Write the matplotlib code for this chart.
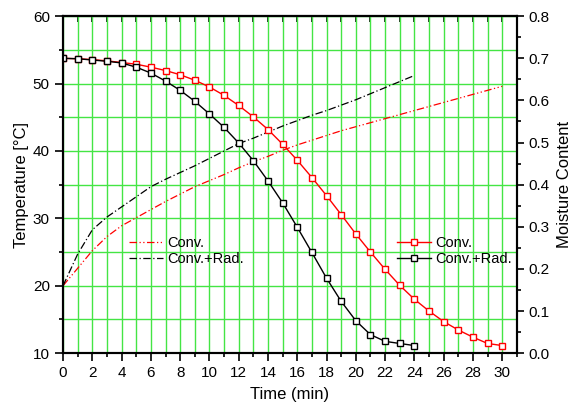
"""
Temperature and moisture content vs drying time
"""
import matplotlib.pyplot as plt
from matplotlib.ticker import MultipleLocator

plt.rcParams['font.family'] = ['Liberation Sans', 'DejaVu Sans']

# time axis (min)
time_conv = list(range(0, 31))
time_rad = list(range(0, 25))

# temperature (deg C)
temp_conv = [20.0, 22.6, 25.2, 27.3, 28.9, 30.1, 31.3, 32.5, 33.6, 34.7,
             35.6, 36.5, 37.5, 38.4, 39.2, 40.1, 40.9, 41.6, 42.3, 43.0,
             43.6, 44.2, 44.8, 45.4, 46.0, 46.6, 47.2, 47.8, 48.4, 49.0, 49.6]
temp_rad = [20.0, 24.7, 28.3, 30.2, 31.7, 33.2, 34.7, 35.8, 36.8, 37.8,
            38.9, 40.0, 41.1, 41.9, 42.8, 43.7, 44.5, 45.3, 46.0, 46.8,
            47.6, 48.5, 49.4, 50.3, 51.2]

# moisture content
moist_conv = [0.700, 0.699, 0.697, 0.694, 0.690, 0.686, 0.679, 0.671, 0.661, 0.648,
              0.632, 0.612, 0.588, 0.561, 0.531, 0.496, 0.458, 0.417, 0.374, 0.329,
              0.283, 0.240, 0.199, 0.161, 0.128, 0.100, 0.075, 0.055, 0.038, 0.023, 0.018]
moist_rad = [0.700, 0.699, 0.696, 0.693, 0.689, 0.679, 0.665, 0.646, 0.624, 0.598,
             0.568, 0.536, 0.499, 0.457, 0.409, 0.357, 0.299, 0.239, 0.178, 0.123,
             0.077, 0.044, 0.028, 0.023, 0.018]

labels = ["Conv.", "Conv.+Rad."]


def show_drying_chart():
    fig = plt.figure(figsize=(5.73, 4.05), dpi=100)
    ax = fig.add_axes([0.110, 0.128, 0.792, 0.832])
    ax2 = ax.twinx()

    # temperature curves
    l1, = ax.plot(time_conv, temp_conv, color="red", lw=0.9,
                  linestyle=(0, (6, 2, 1, 2, 1, 2)))
    l2, = ax.plot(time_rad, temp_rad, color="black", lw=0.9,
                  linestyle=(0, (6, 2, 1, 2)))

    # moisture curves
    m1, = ax2.plot(time_conv, moist_conv, color="red", lw=1, marker="s",
                   markersize=5, markerfacecolor="white", markeredgewidth=1)
    m2, = ax2.plot(time_rad, moist_rad, color="black", lw=1, marker="s",
                   markersize=5, markerfacecolor="white", markeredgewidth=1)

    ax.set_xlim(0, 31)
    ax.set_ylim(10, 60)
    ax2.set_ylim(0, 0.8)

    ax.xaxis.set_major_locator(MultipleLocator(2))
    ax.xaxis.set_minor_locator(MultipleLocator(1))
    ax.yaxis.set_major_locator(MultipleLocator(10))
    ax.yaxis.set_minor_locator(MultipleLocator(5))
    ax2.yaxis.set_major_locator(MultipleLocator(0.1))
    ax2.yaxis.set_minor_locator(MultipleLocator(0.05))

    ax.grid(True, which="both", color="#44e544", lw=1)
    ax.set_axisbelow(True)

    ax.tick_params(which="both", direction="out", top=False, labelsize=11,
                   width=1.2)
    ax.tick_params(which="major", length=6)
    ax.tick_params(which="minor", length=3)
    ax2.tick_params(axis="y", which="both", direction="out", width=1.2,
                    labelsize=11)
    ax2.tick_params(axis="y", which="major", length=5)
    ax2.tick_params(axis="y", which="minor", length=3)

    # inward ticks on the top edge
    top = ax.secondary_xaxis("top")
    top.xaxis.set_major_locator(MultipleLocator(2))
    top.xaxis.set_minor_locator(MultipleLocator(1))
    top.tick_params(which="both", direction="in", length=4, width=1.2,
                    labeltop=False)
    top.spines["top"].set_linewidth(1.5)

    for sp in ax.spines.values():
        sp.set_linewidth(1.5)
    for sp in ax2.spines.values():
        sp.set_linewidth(1.5)

    ax.set_xlabel("Time (min)", fontsize=12, labelpad=5)
    ax.set_ylabel("Temperature [°C]", fontsize=12, labelpad=3)
    ax2.set_ylabel("Moisture Content", fontsize=12, labelpad=5)

    ax.legend([l1, l2], labels, loc="upper left",
              bbox_to_anchor=(0.13, 0.37), frameon=False, fontsize=10.5,
              handlelength=2.3, handletextpad=0.3, labelspacing=0.15,
              borderpad=0)
    ax2.legend([m1, m2], labels, loc="upper left",
               bbox_to_anchor=(0.72, 0.37), frameon=False, fontsize=10.5,
               handlelength=2.3, handletextpad=0.3, labelspacing=0.15,
               borderpad=0)

    fig.savefig("out.png", dpi=100)


if __name__ == '__main__':
    show_drying_chart()
